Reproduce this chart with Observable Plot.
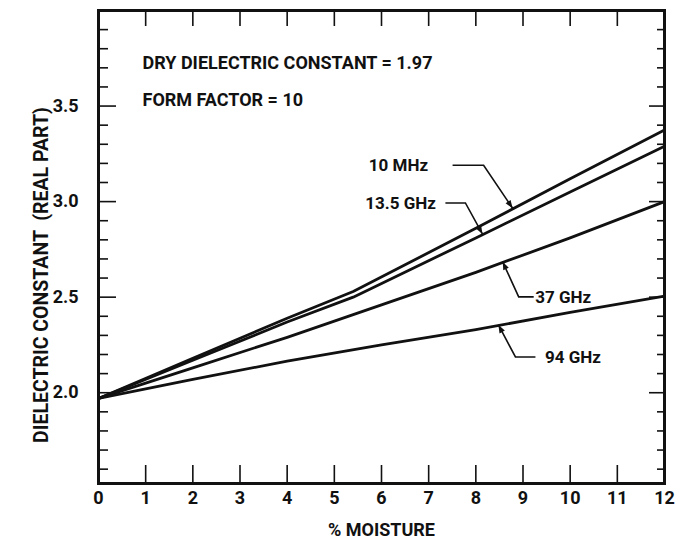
<!DOCTYPE html>
<html><head><meta charset="utf-8">
<script src="https://cdn.jsdelivr.net/npm/d3@7"></script>
<script src="https://cdn.jsdelivr.net/npm/@observablehq/plot@0.6"></script>
<style>
body{margin:0;background:#fff;}
#chart svg{display:block;}
</style></head><body><div id="chart"></div>
<script>
// ---- data ----
const moistureA = [0, 2, 4, 5.4, 8, 10, 12];
const mhz10     = [1.97, 2.18, 2.39, 2.53, 2.86, 3.12, 3.375];
const ghz13_5   = [1.97, 2.17, 2.37, 2.50, 2.81, 3.05, 3.29];
const moistureB = [0, 2, 4, 6, 8, 10, 12];
const ghz37     = [1.97, 2.13, 2.29, 2.46, 2.63, 2.81, 3.00];
const ghz94     = [1.97, 2.07, 2.165, 2.25, 2.33, 2.42, 2.505];
const seriesNames = ["10 MHz", "13.5 GHz", "37 GHz", "94 GHz"];
const xTicks  = [0,1,2,3,4,5,6,7,8,9,10,11,12];
const yMajor  = [2.0, 2.5, 3.0, 3.5];
const yMinor  = [1.6,1.7,1.8,1.9,2.1,2.2,2.3,2.4,2.6,2.7,2.8,2.9,3.1,3.2,3.3,3.4,3.6,3.7,3.8,3.9];
const arrowAt = [8.79, 8.15, 8.58, 8.49];   // % moisture where each label's pointer lands
const noteLines = ["DRY DIELECTRIC CONSTANT = 1.97", "FORM FACTOR = 10"];
const xTitle = "% MOISTURE";
const yTitle = "DIELECTRIC CONSTANT  (REAL PART)";

// ---- build table ----
const xs = [moistureA, moistureA, moistureB, moistureB];
const ys = [mhz10, ghz13_5, ghz37, ghz94];
const rows = [];
seriesNames.forEach((s, i) => xs[i].forEach((m, j) => rows.push({series: s, m, v: ys[i][j]})));
function valueAt(i, m) {
  const X = xs[i], Y = ys[i];
  for (let j = 1; j < X.length; j++) if (m <= X[j]) {
    const t = (m - X[j-1]) / (X[j] - X[j-1]);
    return Y[j-1] + t * (Y[j] - Y[j-1]);
  }
  return Y[Y.length - 1];
}
const tips = seriesNames.map((s, i) => ({name: s, m: arrowAt[i], v: valueAt(i, arrowAt[i])}));

// pixel styling of leaders/labels
const leader = [
  {ex: -29, ey: -43, hx: -60, tdx: -85, anchor: "end"},
  {ex: -17, ey: -31, hx: -37, tdx: -47, anchor: "end"},
  {ex: 16,  ey: 35,  hx: 31,  tdx: 32,  anchor: "start"},
  {ex: 17,  ey: 32,  hx: 37,  tdx: 46,  anchor: "start"}
];

const FONT = "Roboto, 'Liberation Sans', sans-serif";
const blank = () => "";

const marks = [
  Plot.line(rows, {x: "m", y: "v", z: "series", stroke: "#111", strokeWidth: 2.8}),
  // inward ticks
  Plot.axisY(yMinor, {anchor: "left", tickSize: -10, tickFormat: blank, label: null, strokeWidth: 1.6}),
  Plot.axisY(yMajor, {anchor: "left", tickSize: -18, tickFormat: blank, label: null, strokeWidth: 1.6}),
  Plot.axisY(yMajor, {anchor: "left", tickSize: 0, tickPadding: 20, tickFormat: d3.format(".1f"), label: null, fontSize: 18}),
  Plot.axisY(yMinor, {anchor: "right", tickSize: -8, tickFormat: blank, label: null, strokeWidth: 1.6}),
  Plot.axisY(yMajor, {anchor: "right", tickSize: -16, tickFormat: blank, label: null, strokeWidth: 1.6}),
  Plot.axisX(xTicks, {anchor: "bottom", tickSize: -18, tickFormat: blank, label: null, strokeWidth: 1.6}),
  Plot.axisX(xTicks, {anchor: "bottom", tickSize: 0, tickPadding: 8, label: null, fontSize: 18}),
  Plot.axisX(xTicks.slice(1, 12), {anchor: "top", tickSize: -15, tickFormat: blank, label: null, strokeWidth: 1.6}),
  Plot.frame({stroke: "#111", strokeWidth: 3}),
  Plot.text([noteLines[0]], {frameAnchor: "top-left", dx: 44, dy: 53, textAnchor: "start", lineAnchor: "middle", fontSize: 18}),
  Plot.text([noteLines[1]], {frameAnchor: "top-left", dx: 44, dy: 90, textAnchor: "start", lineAnchor: "middle", fontSize: 18}),
  Plot.text([xTitle], {frameAnchor: "bottom", dy: 47, textAnchor: "middle", lineAnchor: "middle", fontSize: 18}),
  Plot.text([yTitle], {frameAnchor: "left", dx: -57, dy: 28, rotate: -90, textAnchor: "middle", lineAnchor: "middle", fontSize: 19.5})
];
tips.forEach((t, i) => {
  const L = leader[i];
  marks.push(Plot.text([t], {x: "m", y: "v", text: "name", dx: L.tdx, dy: L.ey, textAnchor: L.anchor, lineAnchor: "middle", fontSize: 17}));
});

const plot = Plot.plot({
  width: 682, height: 546,
  marginTop: 10, marginRight: 18, marginBottom: 63, marginLeft: 98,
  x: {domain: [0, 12]},
  y: {domain: [1.525, 4.0]},
  style: {fontFamily: FONT, fontWeight: "bold", color: "#111", background: "#fff"},
  marks
});

// leaders with arrowheads, positioned through the plot's own scales
const sx = plot.scale("x"), sy = plot.scale("y");
const svg = d3.select(plot);
const g = svg.append("g").attr("stroke", "#111").attr("fill", "none");
tips.forEach((t, i) => {
  const L = leader[i];
  const px = sx.apply(t.m), py = sy.apply(t.v);
  const ex = px + L.ex, ey = py + L.ey, hx = px + L.hx;
  g.append("path").attr("d", `M${hx},${ey}L${ex},${ey}L${px},${py}`).attr("stroke-width", 1.6);
  const ang = Math.atan2(py - ey, px - ex);
  const len = 8, w = 3;
  const bx = px - len * Math.cos(ang), by = py - len * Math.sin(ang);
  const nx = -Math.sin(ang) * w, ny = Math.cos(ang) * w;
  g.append("path").attr("d", `M${px},${py}L${bx + nx},${by + ny}L${bx - nx},${by - ny}Z`).attr("fill", "#111").attr("stroke", "none");
});

document.getElementById("chart").append(plot);
</script>
</body></html>
